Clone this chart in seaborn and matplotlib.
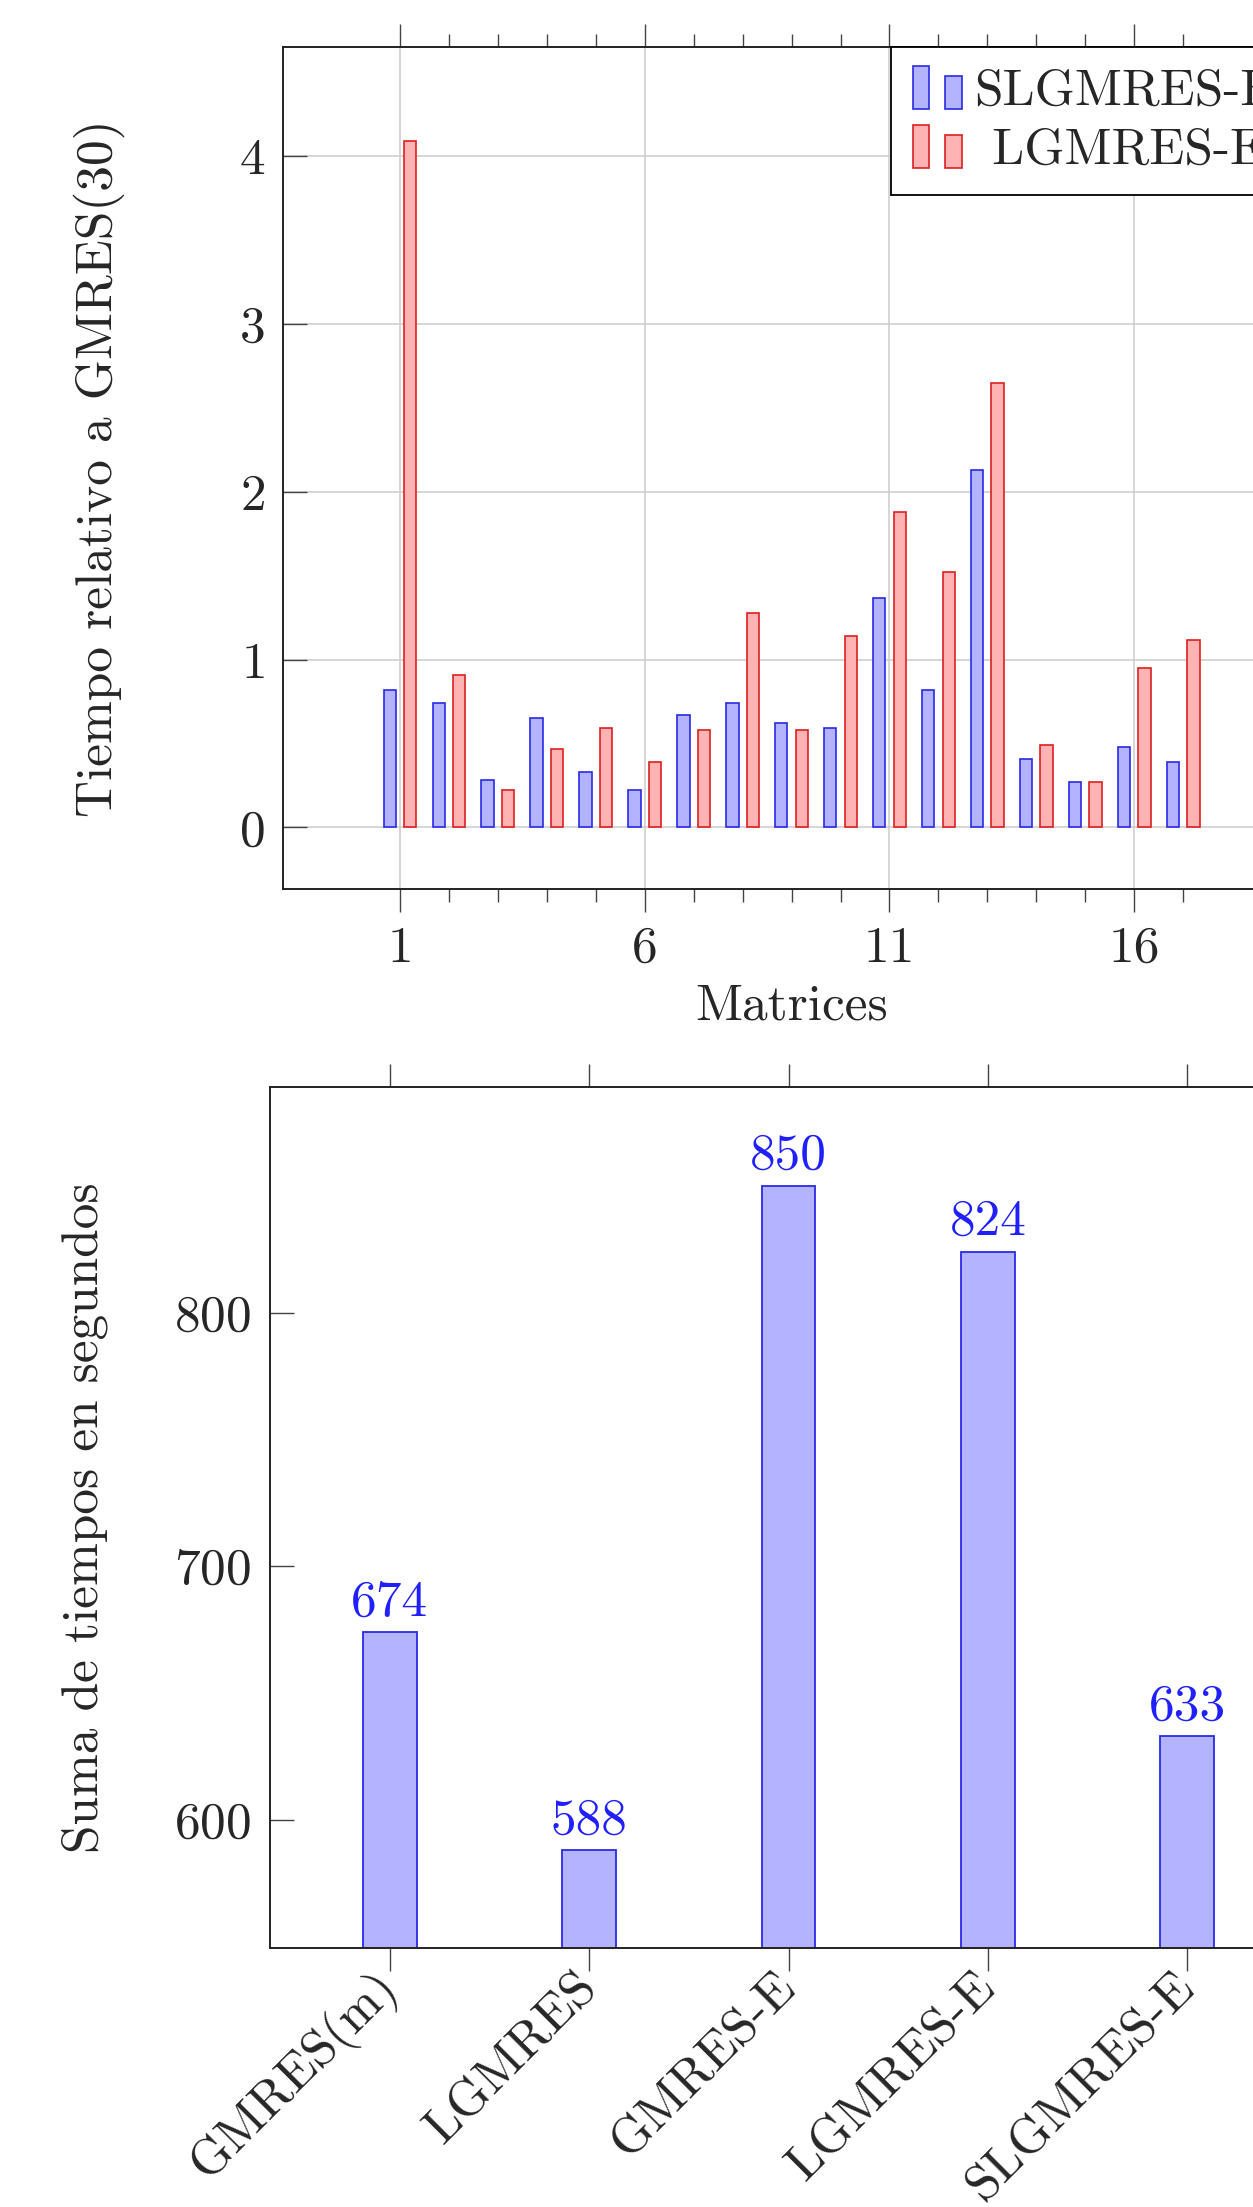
import matplotlib
matplotlib.use("Agg")
import pandas as pd
import matplotlib.pyplot as plt
import seaborn as sns
from matplotlib.patches import Rectangle
from matplotlib.legend_handler import HandlerBase
from matplotlib.ticker import FixedLocator

# --- data ---
matrices = list(range(1, 18))
slgmres_e = [0.82, 0.74, 0.28, 0.65, 0.33, 0.22, 0.67, 0.74, 0.62, 0.59,
             1.37, 0.82, 2.13, 0.41, 0.27, 0.48, 0.39]
lgmres_e = [4.09, 0.91, 0.22, 0.47, 0.59, 0.39, 0.58, 1.28, 0.58, 1.14,
            1.88, 1.52, 2.65, 0.49, 0.27, 0.95, 1.12]
series_names = ["SLGMRES-E", "LGMRES-E"]
major_matrix_ticks = [1, 6, 11, 16]

methods = ["GMRES(m)", "LGMRES", "GMRES-E", "LGMRES-E", "SLGMRES-E"]
total_seconds = [674, 588, 850, 824, 633]

# pgfplots-like colours (blue!30 / red!30 fills)
fills = ["#b3b3ff", "#ffb3b3"]
edges = ["#2a2ae6", "#dd2020"]
label_blue = "#1f1fff"
FS = 37

sns.set_theme(style="ticks")
plt.rcParams["font.family"] = ["cmr10", "DejaVu Serif"]
plt.rcParams["axes.formatter.use_mathtext"] = True
plt.rcParams["font.size"] = FS
plt.rcParams["axes.edgecolor"] = "#222222"
plt.rcParams["axes.linewidth"] = 1.4


class TwoBarHandler(HandlerBase):
    # legend key drawn as two small bars, like pgfplots' ybar legend
    def create_artists(self, legend, orig_handle, xdescent, ydescent,
                       width, height, fontsize, trans):
        fc = orig_handle.get_facecolor()
        ec = orig_handle.get_edgecolor()
        bw = width * 0.34
        x0 = -xdescent
        y0 = -ydescent - 0.12 * height
        tall = Rectangle((x0, y0), bw, height * 1.2, facecolor=fc,
                         edgecolor=ec, lw=1.2, transform=trans)
        short = Rectangle((x0 + width - bw, y0), bw, height * 0.92,
                          facecolor=fc, edgecolor=ec, lw=1.2, transform=trans)
        return [tall, short]


fig = plt.figure(figsize=(12.53, 22.07), dpi=100)
ax1 = fig.add_axes([0.2259, 0.5970, 0.8117, 0.3815])
ax2 = fig.add_axes([0.2155, 0.1172, 0.8276, 0.3904])

# ---------- top chart: relative time per matrix ----------
df = pd.DataFrame({
    "Matriz": matrices * 2,
    "valor": slgmres_e + lgmres_e,
    "metodo": [series_names[0]] * len(matrices) + [series_names[1]] * len(matrices),
})
sns.barplot(data=df, x="Matriz", y="valor", hue="metodo", hue_order=series_names,
            palette=dict(zip(series_names, fills)), saturation=1, native_scale=True,
            width=0.84, gap=0.4, linewidth=1.2, legend=False, ax=ax1)
for cont, ec in zip(ax1.containers, edges):
    for bar in cont:
        bar.set_edgecolor(ec)

ax1.set_axisbelow(True)
ax1.set_xlim(-1.39, 19.39)
ax1.set_ylim(-0.37, 4.65)
ax1.set_xticks(major_matrix_ticks)
ax1.set_xticklabels([str(m) for m in major_matrix_ticks])
ax1.xaxis.set_minor_locator(FixedLocator(matrices))
ax1.set_yticks([0, 1, 2, 3, 4])
ax1.tick_params(axis="x", which="both", direction="out", top=True, bottom=True,
                color="#444444", width=1)
ax1.tick_params(axis="x", which="major", length=16.5, pad=10, labelsize=FS)
ax1.tick_params(axis="x", which="minor", length=9.5)
ax1.tick_params(axis="y", direction="in", length=17, width=1, color="#444444",
                left=True, right=False, pad=13, labelsize=FS)
ax1.grid(True, which="major", color="#cccccc", lw=1.1)
ax1.set_xlabel("Matrices", fontsize=FS)
ax1.xaxis.set_label_coords(0.5, -0.112)
ax1.set_ylabel("Tiempo relativo a GMRES(30)", fontsize=FS)
ax1.yaxis.set_label_coords(-0.155, 0.5)

handles = [Rectangle((0, 0), 1, 1, facecolor=f, edgecolor=e) for f, e in zip(fills, edges)]
leg = ax1.legend(handles, [series_names[0], " " + series_names[1]],
                 handler_map={Rectangle: TwoBarHandler()},
                 loc="upper left", bbox_to_anchor=(0.598, 1.0), borderaxespad=0,
                 frameon=True, fancybox=False, framealpha=1, edgecolor="black",
                 fontsize=FS, handlelength=0.95, handletextpad=0.25,
                 borderpad=0.42, labelspacing=0.25)
leg.get_frame().set_linewidth(1.3)

# ---------- bottom chart: total time per method ----------
sns.barplot(x=methods, y=total_seconds, color=fills[0], saturation=1, width=0.27,
            edgecolor=edges[0], linewidth=1.3, ax=ax2)
ax2.set_xlim(-0.6, 4.6)
ax2.set_ylim(549.4, 889)
ax2.set_yticks([600, 700, 800])
ax2.tick_params(axis="x", direction="out", top=True, bottom=True, length=16.5,
                width=1, color="#444444", pad=6, labelsize=FS)
ax2.tick_params(axis="y", direction="in", length=17, width=1, color="#444444",
                left=True, right=False, pad=14, labelsize=FS)
plt.setp(ax2.get_xticklabels(), rotation=45, ha="right", va="center",
         rotation_mode="anchor")
ax2.bar_label(ax2.containers[0], labels=[str(v) for v in total_seconds],
              padding=5, color=label_blue, fontsize=FS)
ax2.set_xlabel("")
ax2.set_ylabel("Suma de tiempos en segundos", fontsize=FS)
ax2.yaxis.set_label_coords(-0.156, 0.5)

fig.savefig("out.png", dpi=100)
